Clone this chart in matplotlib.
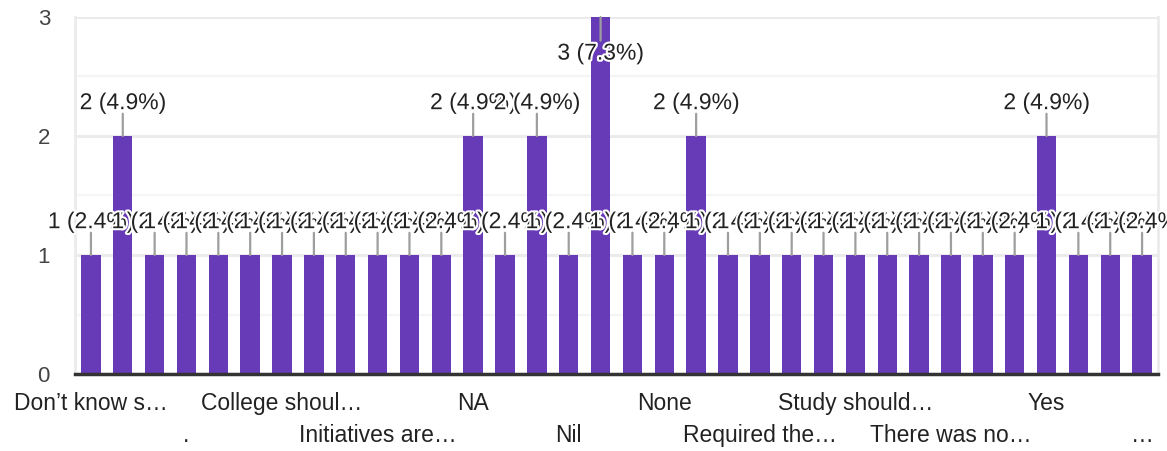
import numpy as np
import matplotlib
matplotlib.use("Agg")
import matplotlib.pyplot as plt
import matplotlib.patheffects as pe

plt.rcParams['font.family'] = ['Liberation Sans', 'DejaVu Sans']

# responses per answer (34 distinct answers, 41 responses in total)
counts = [1, 2, 1, 1, 1, 1, 1, 1, 1, 1, 1, 1, 2, 1, 2, 1, 3,
          1, 1, 2, 1, 1, 1, 1, 1, 1, 1, 1, 1, 1, 2, 1, 1, 1]

# every third answer gets a (truncated) label, rows alternate
axis_labels = ["Don\u2019t know s\u2026", ".", "College shoul\u2026",
               "Initiatives are\u2026", "NA", "Nil", "None",
               "Required the\u2026", "Study should\u2026", "There was no\u2026",
               "Yes", "\u2026"]
label_step = 3

yticks = [0, 1, 2, 3]

bar_color = '#673ab7'
stem_color = '#9e9e9e'
text_color = '#222222'

total = sum(counts)
x = np.arange(len(counts))
ymax = max(yticks)

fig = plt.figure(figsize=(11.67, 4.51), dpi=100)
ax = fig.add_axes([75 / 1167, 1 - 374 / 451, 1083 / 1167, 357 / 451])

ax.bar(x, counts, width=0.61, color=bar_color, zorder=2)

ax.set_xlim(-0.5, len(counts) - 0.5)
ax.set_ylim(0, ymax)
ax.set_yticks(yticks)
ax.set_yticks([0.5, 1.5, 2.5], minor=True)
ax.set_xticks([])
ax.tick_params(axis='y', which='both', length=0, pad=18, labelsize=16,
               labelcolor='#444444')
ax.grid(axis='y', which='major', color='#ebebeb', lw=2.2, zorder=0)
ax.grid(axis='y', which='minor', color='#f5f5f5', lw=1.6, zorder=0)

for side in ['left', 'right', 'top']:
    ax.spines[side].set_color('#ebebeb')
    ax.spines[side].set_linewidth(2)
ax.spines['top'].set_visible(False)
ax.spines['bottom'].set_color('#333333')
ax.spines['bottom'].set_linewidth(2.5)
ax.spines['bottom'].set_zorder(5)

halo = [pe.withStroke(linewidth=3, foreground='white')]

# value labels with a short leader stem
for i, c in zip(x, counts):
    label = f"{c} ({c / total * 100:.1f}%)"
    if c < ymax:
        stem_dy, text_dy = 16, 24
    else:
        stem_dy, text_dy = -17, -26
    ax.annotate('', xy=(i, c), xytext=(0, stem_dy), textcoords='offset points',
                arrowprops=dict(arrowstyle='-', color=stem_color, lw=1.6,
                                shrinkA=0, shrinkB=0),
                zorder=3, annotation_clip=False)
    ax.annotate(label, xy=(i, c), xytext=(0, text_dy), textcoords='offset points',
                ha='center', va='center', fontsize=16.5, color=text_color,
                path_effects=halo, zorder=4, annotation_clip=False)

# category labels
for k, lab in enumerate(axis_labels):
    row = k % 2
    ax.annotate(lab, xy=(x[k * label_step], 0), xytext=(0, -21 - 23 * row),
                textcoords='offset points', ha='center', va='center',
                fontsize=16.5, color=text_color, annotation_clip=False)

fig.savefig('out.png', dpi=100)
